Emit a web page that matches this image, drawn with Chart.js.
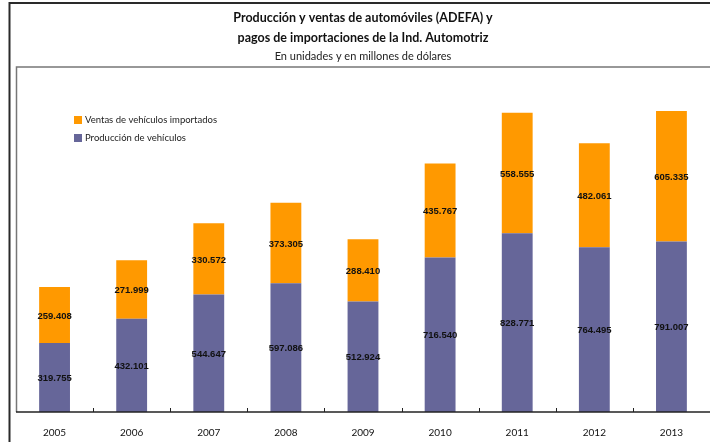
<!DOCTYPE html>
<html>
<head>
<meta charset="utf-8">
<script src="https://cdn.jsdelivr.net/npm/chart.js@4"></script>
<style>
  html, body { margin: 0; padding: 0; background: #fff; }
  #wrap { position: relative; width: 710px; height: 442px; }
</style>
</head>
<body>
<div id="wrap"><canvas id="c" width="710" height="442"></canvas></div>
<script>
const years = ['2005','2006','2007','2008','2009','2010','2011','2012','2013'];
const produccion = [319755, 432101, 544647, 597086, 512924, 716540, 828771, 764495, 791007];
const ventasImportados = [259408, 271999, 330572, 373305, 288410, 435767, 558555, 482061, 605335];
const titleLines = ['Producción y ventas de automóviles (ADEFA) y', 'pagos de importaciones de la Ind. Automotriz'];
const subtitleText = 'En unidades y en millones de dólares';
const seriesNames = ['Producción de vehículos', 'Ventas de vehículos importados'];
const seriesColors = ['#666699', '#FF9900'];

const FONT = 'Lato, "Open Sans", sans-serif';

function fmt(v) {
  return String(v).replace(/\B(?=(\d{3})+(?!\d))/g, '.');
}

const decorPlugin = {
  id: 'decor',
  beforeDraw(chart) {
    const ctx = chart.ctx;
    const a = chart.chartArea;
    ctx.save();
    ctx.strokeStyle = '#2a2a2a';
    ctx.lineWidth = 2;
    ctx.beginPath();
    ctx.moveTo(9.5, 442);
    ctx.lineTo(9.5, 3);
    ctx.lineTo(710, 3);
    ctx.stroke();
    ctx.strokeStyle = '#777';
    ctx.lineWidth = 1.5;
    ctx.beginPath();
    ctx.moveTo(a.left + 0.5, a.bottom);
    ctx.lineTo(a.left + 0.5, a.top);
    ctx.lineTo(710, a.top);
    ctx.stroke();
    ctx.restore();
  },
  afterDatasetsDraw(chart) {
    const ctx = chart.ctx;
    const a = chart.chartArea;
    const xs = chart.scales.x;
    ctx.save();
    ctx.font = 'bold 9.5px "Liberation Sans", Arial, sans-serif';
    ctx.fillStyle = '#111';
    ctx.textAlign = 'center';
    ctx.textBaseline = 'middle';
    chart.data.datasets.forEach((ds, di) => {
      const meta = chart.getDatasetMeta(di);
      meta.data.forEach((bar, i) => {
        const p = bar.getProps(['x', 'y', 'base'], true);
        ctx.fillText(fmt(ds.data[i]), p.x, (p.y + p.base) / 2 + 1);
      });
    });
    ctx.strokeStyle = '#222';
    ctx.lineWidth = 1.5;
    ctx.beginPath();
    ctx.moveTo(a.left, a.bottom);
    ctx.lineTo(a.right, a.bottom);
    ctx.stroke();
    ctx.lineWidth = 1;
    ctx.beginPath();
    for (let i = 0; i < years.length - 1; i++) {
      const x = Math.round(xs.getPixelForValue(i + 0.5)) + 0.5;
      ctx.moveTo(x, a.bottom);
      ctx.lineTo(x, a.bottom - 4);
    }
    ctx.stroke();
    ctx.font = '9.5px ' + FONT;
    ctx.textAlign = 'left';
    ctx.textBaseline = 'middle';
    const order = [1, 0];
    order.forEach((di, k) => {
      const y = 120 + k * 18;
      ctx.fillStyle = seriesColors[di];
      ctx.fillRect(74, y - 4, 8, 8);
      ctx.fillStyle = '#222';
      ctx.fillText(seriesNames[di], 85, y);
    });
    ctx.restore();
  }
};

new Chart(document.getElementById('c'), {
  type: 'bar',
  data: {
    labels: years,
    datasets: [
      { label: seriesNames[0], data: produccion, backgroundColor: seriesColors[0], categoryPercentage: 0.8, barPercentage: 0.5 },
      { label: seriesNames[1], data: ventasImportados, backgroundColor: seriesColors[1], categoryPercentage: 0.8, barPercentage: 0.5 }
    ]
  },
  options: {
    responsive: false,
    animation: false,
    devicePixelRatio: 1,
    layout: { padding: { left: 16, right: 0, top: 0, bottom: 3 } },
    plugins: {
      legend: { display: false },
      tooltip: { enabled: false },
      title: {
        display: true,
        text: titleLines,
        color: '#111',
        font: { family: FONT, size: 12.5, weight: 'bold', lineHeight: '20px' },
        padding: { top: 8, bottom: 0 }
      },
      subtitle: {
        display: true,
        text: subtitleText,
        color: '#222',
        font: { family: FONT, size: 11, lineHeight: '16px' },
        padding: { top: 0, bottom: 3 }
      }
    },
    scales: {
      x: {
        stacked: true,
        grid: { display: false, drawTicks: false },
        border: { display: false },
        ticks: { color: '#111', font: { family: FONT, size: 10 }, padding: 15 },
        afterFit(s) { s.height = 27; }
      },
      y: {
        stacked: true,
        display: false,
        min: 0,
        max: 1600000
      }
    }
  },
  plugins: [decorPlugin]
});
</script>
</body>
</html>
